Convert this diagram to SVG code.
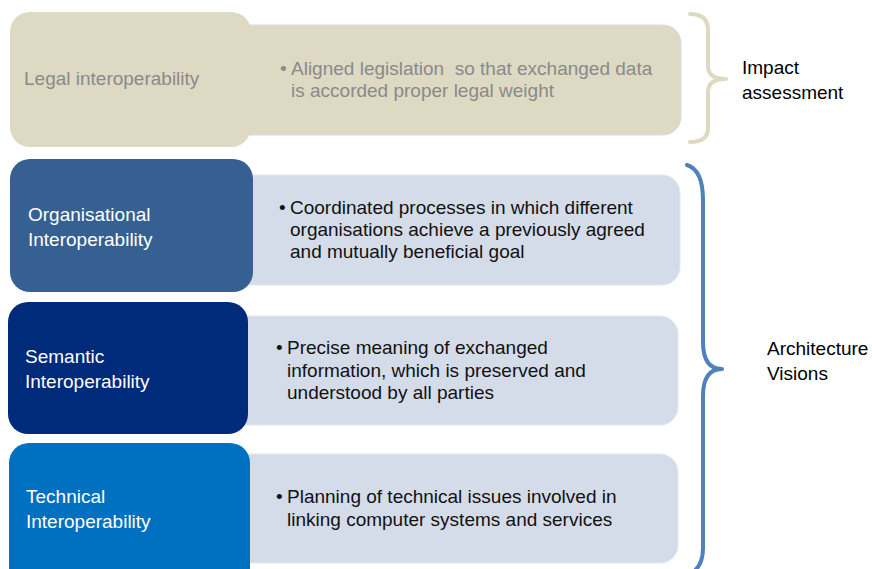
<svg xmlns="http://www.w3.org/2000/svg" width="872" height="569" viewBox="0 0 872 569">
<style>
text{font-family:"Liberation Sans",Arial,sans-serif;font-size:19px}
.lbl{fill:#ffffff}
.body{fill:#111111}
.gray{fill:#8a8a8a}
.side{fill:#000000}
.rbox{fill:#D5DCE9;stroke:#E2E7F0;stroke-width:1}
.brace{fill:none;stroke-width:4;stroke-linecap:round;stroke-linejoin:round}
</style>
<rect width="872" height="569" fill="#ffffff"/>
<g id="legal">
<rect x="200" y="25" width="481" height="110" rx="18" fill="#DDD9C3" stroke="#D8DDE8" stroke-width="1"/>
<rect x="10" y="12" width="241" height="135" rx="20" fill="#DDD9C3"/>
<text x="24" y="85" class="gray">Legal interoperability</text>
<text x="280" y="75" class="gray">•</text>
<text x="291" y="75" class="gray" xml:space="preserve" style="white-space:pre">Aligned legislation  so that exchanged data</text>
<text x="291" y="97" class="gray">is accorded proper legal weight</text>
</g>
<g id="organisational">
<rect x="200" y="175" width="480" height="110" rx="18" class="rbox"/>
<rect x="10" y="159" width="243" height="133" rx="20" fill="#366092"/>
<text x="28" y="221" class="lbl">Organisational</text>
<text x="28" y="246" class="lbl">Interoperability</text>
<text x="279" y="214" class="body">•</text>
<text x="290" y="214" class="body">Coordinated processes in which different</text>
<text x="290" y="236" class="body">organisations achieve a previously agreed</text>
<text x="290" y="258" class="body">and mutually beneficial goal</text>
</g>
<g id="semantic">
<rect x="200" y="316" width="478" height="109" rx="18" class="rbox"/>
<rect x="8" y="302" width="240" height="132" rx="20" fill="#002A7A"/>
<text x="25" y="363" class="lbl">Semantic</text>
<text x="25" y="388" class="lbl">Interoperability</text>
<text x="276" y="354" class="body">•</text>
<text x="287" y="354" class="body">Precise meaning of exchanged</text>
<text x="287" y="377" class="body">information, which is preserved and</text>
<text x="287" y="399" class="body">understood by all parties</text>
</g>
<g id="technical">
<rect x="200" y="454" width="478" height="109" rx="18" class="rbox"/>
<rect x="9" y="443" width="241" height="150" rx="20" fill="#0070C0"/>
<text x="26" y="503" class="lbl">Technical</text>
<text x="26" y="528" class="lbl">Interoperability</text>
<text x="276" y="503" class="body">•</text>
<text x="287" y="503" class="body">Planning of technical issues involved in</text>
<text x="287" y="526" class="body">linking computer systems and services</text>
</g>
<g id="connectors">
<path class="brace" stroke="#DDD9C3" d="M690,14 Q708,14 708,30 L708,66 Q708,79 726,79 Q708,79 708,92 L708,128 Q708,142 690,142"/>
<path class="brace" stroke="#4F81BD" d="M687,165 Q703,170 703,200 L703,342 Q703,369 722,369 Q703,369 703,396 L703,548 Q703,565 693,572"/>
</g>
<g id="impact">
<text x="742" y="74" class="side">Impact</text>
<text x="742" y="99" class="side">assessment</text>
</g>
<g id="architecture">
<text x="767" y="355" class="side">Architecture</text>
<text x="767" y="380" class="side">Visions</text>
</g>
</svg>
